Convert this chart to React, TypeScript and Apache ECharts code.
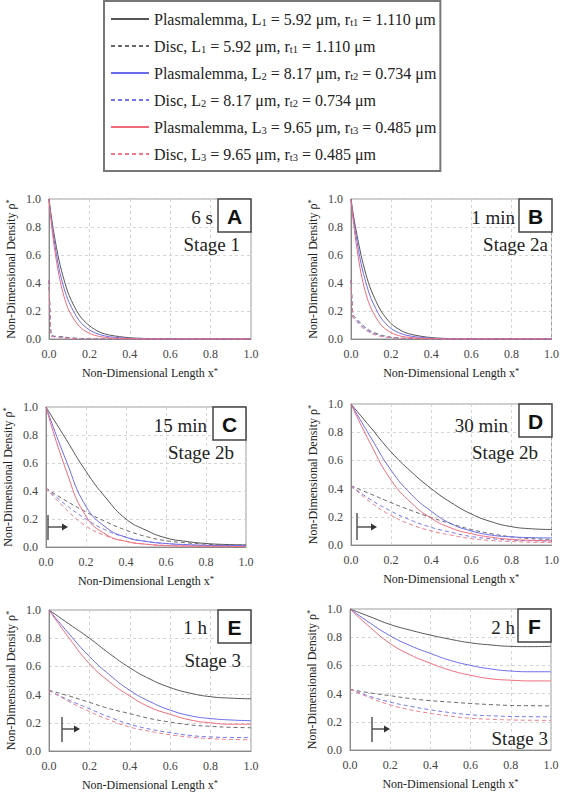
import React, { useEffect, useRef } from "react";
import * as echarts from "echarts";

// ---------- data ----------
const X_FINE = [0, 0.01, 0.025, 0.05, 0.075, 0.1, 0.15, 0.2, 0.25, 0.3, 0.4, 0.5, 0.6, 0.8, 1.0];
const X_COARSE = [0, 0.1, 0.2, 0.3, 0.4, 0.5, 0.6, 0.7, 0.8, 0.9, 1.0];
const AXIS_TICKS = [0, 0.2, 0.4, 0.6, 0.8, 1.0];

const SERIES_NAMES = [
  "Plasmalemma, L1 = 5.92 μm, rt1 = 1.110 μm",
  "Disc, L1 = 5.92 μm, rt1 = 1.110 μm",
  "Plasmalemma, L2 = 8.17 μm, rt2 = 0.734 μm",
  "Disc, L2 = 8.17 μm, rt2 = 0.734 μm",
  "Plasmalemma, L3 = 9.65 μm, rt3 = 0.485 μm",
  "Disc, L3 = 9.65 μm, rt3 = 0.485 μm",
];
const LEGEND_RICH = [
  "{n|Plasmalemma, L}{s|1}{n| = 5.92 μm, r}{s|t1}{n| = 1.110 μm}",
  "{n|Disc, L}{s|1}{n| = 5.92 μm, r}{s|t1}{n| = 1.110 μm}",
  "{n|Plasmalemma, L}{s|2}{n| = 8.17 μm, r}{s|t2}{n| = 0.734 μm}",
  "{n|Disc, L}{s|2}{n| = 8.17 μm, r}{s|t2}{n| = 0.734 μm}",
  "{n|Plasmalemma, L}{s|3}{n| = 9.65 μm, r}{s|t3}{n| = 0.485 μm}",
  "{n|Disc, L}{s|3}{n| = 9.65 μm, r}{s|t3}{n| = 0.485 μm}",
];

// Panel A (6 s) on X_FINE
const A_P1 = [1, 0.89, 0.75, 0.56, 0.42, 0.31, 0.17, 0.095, 0.05, 0.028, 0.009, 0.003, 0.001, 0, 0];
const A_D1 = [0.42, 0.03, 0.02, 0.018, 0.014, 0.01, 0.004, 0.001, 0, 0, 0, 0, 0, 0, 0];
const A_P2 = [1, 0.87, 0.71, 0.5, 0.36, 0.26, 0.13, 0.065, 0.032, 0.016, 0.004, 0.001, 0, 0, 0];
const A_D2 = [0.42, 0.025, 0.018, 0.014, 0.01, 0.006, 0.002, 0, 0, 0, 0, 0, 0, 0, 0];
const A_P3 = [1, 0.85, 0.67, 0.45, 0.3, 0.2, 0.09, 0.04, 0.018, 0.008, 0.002, 0, 0, 0, 0];
const A_D3 = [0.42, 0.02, 0.015, 0.01, 0.007, 0.004, 0.001, 0, 0, 0, 0, 0, 0, 0, 0];

// Panel B (1 min) on X_FINE
const B_P1 = [1, 0.9, 0.78, 0.6, 0.46, 0.35, 0.2, 0.11, 0.06, 0.033, 0.01, 0.003, 0.001, 0, 0];
const B_D1 = [0.42, 0.17, 0.15, 0.11, 0.08, 0.055, 0.028, 0.013, 0.006, 0.003, 0.001, 0, 0, 0, 0];
const B_P2 = [1, 0.88, 0.74, 0.54, 0.4, 0.29, 0.15, 0.075, 0.038, 0.02, 0.005, 0.001, 0, 0, 0];
const B_D2 = [0.42, 0.16, 0.14, 0.1, 0.07, 0.047, 0.022, 0.01, 0.005, 0.002, 0.001, 0, 0, 0, 0];
const B_P3 = [1, 0.86, 0.69, 0.47, 0.32, 0.22, 0.1, 0.045, 0.02, 0.01, 0.002, 0, 0, 0, 0];
const B_D3 = [0.42, 0.15, 0.13, 0.09, 0.062, 0.04, 0.018, 0.008, 0.004, 0.002, 0, 0, 0, 0, 0];

// Panel C (15 min) on X_COARSE
const C_P1 = [1, 0.77, 0.54, 0.35, 0.2, 0.12, 0.065, 0.04, 0.025, 0.018, 0.015];
const C_D1 = [0.42, 0.33, 0.25, 0.18, 0.12, 0.075, 0.045, 0.03, 0.02, 0.015, 0.012];
const C_P2 = [1, 0.62, 0.29, 0.14, 0.07, 0.04, 0.025, 0.017, 0.012, 0.01, 0.01];
const C_D2 = [0.42, 0.3, 0.2, 0.12, 0.07, 0.04, 0.025, 0.015, 0.01, 0.008, 0.007];
const C_P3 = [1, 0.55, 0.22, 0.09, 0.04, 0.02, 0.01, 0.007, 0.005, 0.004, 0.003];
const C_D3 = [0.42, 0.27, 0.15, 0.08, 0.04, 0.02, 0.012, 0.008, 0.005, 0.004, 0.003];

// Panel D (30 min)
const D_P1 = [1, 0.83, 0.66, 0.52, 0.4, 0.3, 0.22, 0.165, 0.13, 0.115, 0.11];
const D_D1 = [0.42, 0.36, 0.3, 0.245, 0.195, 0.15, 0.11, 0.08, 0.058, 0.045, 0.04];
const D_P2 = [1, 0.76, 0.53, 0.36, 0.24, 0.15, 0.1, 0.07, 0.058, 0.052, 0.05];
const D_D2 = [0.42, 0.32, 0.24, 0.175, 0.125, 0.09, 0.06, 0.045, 0.035, 0.03, 0.028];
const D_P3 = [1, 0.71, 0.46, 0.3, 0.19, 0.12, 0.08, 0.055, 0.04, 0.033, 0.03];
const D_D3 = [0.42, 0.3, 0.21, 0.145, 0.1, 0.07, 0.045, 0.032, 0.025, 0.02, 0.018];

// Panel E (1 h)
const E_P1 = [1, 0.9, 0.8, 0.69, 0.59, 0.51, 0.45, 0.41, 0.385, 0.375, 0.37];
const E_D1 = [0.43, 0.39, 0.345, 0.3, 0.265, 0.23, 0.205, 0.185, 0.175, 0.168, 0.165];
const E_P2 = [1, 0.83, 0.67, 0.54, 0.43, 0.35, 0.29, 0.25, 0.23, 0.22, 0.215];
const E_D2 = [0.43, 0.36, 0.3, 0.24, 0.19, 0.155, 0.13, 0.11, 0.1, 0.096, 0.095];
const E_P3 = [1, 0.8, 0.62, 0.49, 0.39, 0.31, 0.26, 0.22, 0.2, 0.19, 0.19];
const E_D3 = [0.43, 0.35, 0.28, 0.22, 0.17, 0.14, 0.115, 0.098, 0.088, 0.082, 0.08];

// Panel F (2 h)
const F_P1 = [1, 0.945, 0.89, 0.85, 0.815, 0.785, 0.76, 0.745, 0.735, 0.733, 0.735];
const F_D1 = [0.43, 0.405, 0.385, 0.365, 0.35, 0.34, 0.33, 0.322, 0.316, 0.314, 0.313];
const F_P2 = [1, 0.9, 0.81, 0.74, 0.685, 0.635, 0.6, 0.575, 0.56, 0.555, 0.555];
const F_D2 = [0.43, 0.38, 0.34, 0.31, 0.285, 0.265, 0.25, 0.243, 0.238, 0.236, 0.235];
const F_P3 = [1, 0.87, 0.755, 0.675, 0.615, 0.565, 0.53, 0.505, 0.495, 0.49, 0.49];
const F_D3 = [0.43, 0.37, 0.32, 0.285, 0.26, 0.24, 0.225, 0.218, 0.213, 0.211, 0.21];

const PANEL_TIMES = ["6 s", "1 min", "15 min", "30 min", "1 h", "2 h"];
const PANEL_STAGES = ["Stage 1", "Stage 2a", "Stage 2b", "Stage 2b", "Stage 3", "Stage 3"];
const PANEL_LETTERS = ["A", "B", "C", "D", "E", "F"];

// ---------- layout / style ----------
const COLORS = ["#555555", "#666666", "#6b6bee", "#7474ee", "#f06a7a", "#f07a8a"];
const SERIF = "Liberation Serif";
const SANS = "Liberation Sans";

const PANELS = [
  { x: X_FINE, fine: true, data: [A_P1, A_D1, A_P2, A_D2, A_P3, A_D3], grid: { left: 49, top: 199, width: 202, height: 140 },
    timeAt: [213, 217], stageAt: [240, 244], arrow: null },
  { x: X_FINE, fine: true, data: [B_P1, B_D1, B_P2, B_D2, B_P3, B_D3], grid: { left: 351, top: 199, width: 201, height: 140 },
    timeAt: [515, 217], stageAt: [548, 244], arrow: null },
  { x: X_COARSE, fine: false, data: [C_P1, C_D1, C_P2, C_D2, C_P3, C_D3], grid: { left: 46, top: 407, width: 200, height: 140 },
    timeAt: [207, 425], stageAt: [234, 452], arrow: [48, 515, 540, 527, 68] },
  { x: X_COARSE, fine: false, data: [D_P1, D_D1, D_P2, D_D2, D_P3, D_D3], grid: { left: 351, top: 404, width: 201, height: 141 },
    timeAt: [508, 425], stageAt: [538, 452], arrow: [357, 513, 540, 527, 377] },
  { x: X_COARSE, fine: false, data: [E_P1, E_D1, E_P2, E_D2, E_P3, E_D3], grid: { left: 49, top: 610, width: 202, height: 141 },
    timeAt: [207, 627], stageAt: [241, 660], arrow: [62, 717, 742, 729, 80] },
  { x: X_COARSE, fine: false, data: [F_P1, F_D1, F_P2, F_D2, F_P3, F_D3], grid: { left: 350, top: 609, width: 201, height: 141 },
    timeAt: [515, 627], stageAt: [548, 738], arrow: [372, 717, 742, 729, 390] },
];

function buildOption() {
  const grids: any[] = [];
  const xAxes: any[] = [];
  const yAxes: any[] = [];
  const series: any[] = [];
  const graphics: any[] = [];

  const tickLabel = { fontFamily: SERIF, fontSize: 12, color: "#444" };
  const nameStyle = {
    fontFamily: SERIF,
    fontSize: 12,
    color: "#222",
    rich: {
      a: { fontFamily: SERIF, fontSize: 12, color: "#222", lineHeight: 14 },
      s: { fontFamily: SERIF, fontSize: 8.5, color: "#222", lineHeight: 8, verticalAlign: "top" },
    },
  };

  PANELS.forEach((p, i) => {
    grids.push({ ...p.grid, show: true, borderColor: "#9a9a9a", borderWidth: 1, containLabel: false });
    const common = {
      type: "value",
      gridIndex: i,
      min: AXIS_TICKS[0],
      max: AXIS_TICKS[AXIS_TICKS.length - 1],
      interval: 0.2,
      axisLine: { show: true, lineStyle: { color: "#8a8a8a", width: 1 } },
      axisTick: { show: false },
      splitLine: { show: true, lineStyle: { color: "#d4d4d4", type: [3, 3], width: 1 } },
      axisLabel: { ...tickLabel, formatter: (v: number) => v.toFixed(1) },
      nameLocation: "middle",
      nameTextStyle: nameStyle,
    };
    xAxes.push({ ...common, name: "{a|Non-Dimensional Length x}{s|*}", nameGap: 27, axisLabel: { ...common.axisLabel, margin: 9 } });
    yAxes.push({ ...common, name: "{a|Non-Dimensional Density ρ}{s|*}", nameGap: 31, axisLabel: { ...common.axisLabel, margin: 8 } });

    p.data.forEach((vals, k) => {
      const isDisc = k % 2 === 1;
      series.push({
        type: "line",
        name: SERIES_NAMES[k],
        xAxisIndex: i,
        yAxisIndex: i,
        data: p.x.map((xv, j) => [xv, vals[j]]),
        symbol: "none",
        showSymbol: false,
        smooth: p.fine ? (isDisc ? 0.15 : 0.3) : 0.5,
        silent: true,
        color: COLORS[k],
        itemStyle: { color: COLORS[k] },
        lineStyle: { color: COLORS[k], width: 1, type: isDisc ? [4, 3] : "solid" },
        z: 3,
      });
    });

    const g = p.grid;
    const boxSize = 33;
    const bx = g.left + g.width - boxSize;
    const by = g.top;
    graphics.push({
      type: "rect",
      shape: { x: bx, y: by, width: boxSize, height: boxSize },
      style: { fill: "#fff", stroke: "#444", lineWidth: 1.5 },
      z: 10,
    });
    graphics.push({
      type: "text",
      x: bx + boxSize / 2,
      y: by + boxSize / 2 + 1,
      style: { text: PANEL_LETTERS[i], fontFamily: SANS, fontWeight: "bold", fontSize: 21, fill: "#111", align: "center", verticalAlign: "middle" },
      z: 11,
    });
    graphics.push({
      type: "text",
      x: p.timeAt[0],
      y: p.timeAt[1],
      style: { text: PANEL_TIMES[i], fontFamily: SERIF, fontSize: 19, fill: "#222", align: "right", verticalAlign: "middle" },
      z: 11,
    });
    graphics.push({
      type: "text",
      x: p.stageAt[0],
      y: p.stageAt[1],
      style: { text: PANEL_STAGES[i], fontFamily: SERIF, fontSize: 19, fill: "#222", align: "right", verticalAlign: "middle" },
      z: 11,
    });
    if (p.arrow) {
      const [vx, y1, y2, hy, tip] = p.arrow;
      graphics.push({ type: "line", shape: { x1: vx, y1, x2: vx, y2 }, style: { stroke: "#555", lineWidth: 1.5 }, z: 11 });
      graphics.push({ type: "line", shape: { x1: vx, y1: hy, x2: tip - 5, y2: hy }, style: { stroke: "#555", lineWidth: 1.5 }, z: 11 });
      graphics.push({
        type: "polygon",
        shape: { points: [[tip, hy], [tip - 6, hy - 3.5], [tip - 6, hy + 3.5]] },
        style: { fill: "#333" },
        z: 11,
      });
    }
  });

  return {
    animation: false,
    backgroundColor: "#fff",
    textStyle: { fontFamily: SERIF },
    grid: grids,
    xAxis: xAxes,
    yAxis: yAxes,
    series,
    graphic: graphics,
    legend: {
      show: true,
      orient: "vertical",
      left: 104,
      top: 1,
      data: SERIES_NAMES,
      selectedMode: false,
      itemWidth: 38,
      itemHeight: 12,
      itemGap: 10,
      padding: [10, 4, 8, 6],
      borderColor: "#777",
      borderWidth: 2,
      backgroundColor: "#fff",
      itemStyle: { opacity: 0 },
      formatter: (name: string) => LEGEND_RICH[SERIES_NAMES.indexOf(name)],
      textStyle: {
        fontFamily: SERIF,
        fontSize: 16,
        color: "#222",
        rich: {
          n: { fontFamily: SERIF, fontSize: 16, color: "#222", lineHeight: 18 },
          s: { fontFamily: SERIF, fontSize: 10.5, color: "#222", lineHeight: 10, verticalAlign: "bottom" },
        },
      },
    },
  };
}

export default function App() {
  const ref = useRef<HTMLDivElement>(null);
  useEffect(() => {
    if (!ref.current) return;
    const chart = echarts.init(ref.current, undefined, { renderer: "svg" });
    chart.setOption(buildOption() as any);
    return () => chart.dispose();
  }, []);
  return (
    <div
      ref={ref}
      style={{ position: "fixed", left: 0, top: 0, width: 562, height: 800, background: "#fff" }}
    />
  );
}
